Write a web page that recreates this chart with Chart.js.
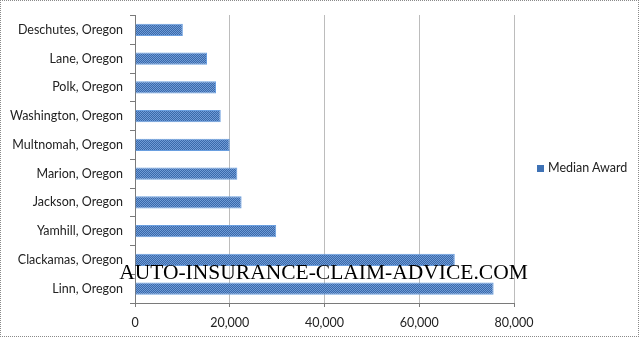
<!DOCTYPE html>
<html>
<head>
<meta charset="utf-8">
<script src="https://cdn.jsdelivr.net/npm/chart.js@4.4.1/dist/chart.umd.min.js"></script>
<style>
  html, body { margin: 0; padding: 0; background: #fff; }
  #wrap { position: relative; width: 639px; height: 337px; box-sizing: border-box; border: 1px dotted #8a8a8a; }
  canvas { position: absolute; left: 0; top: 0; }
  #legend { position: absolute; left: 536px; top: 159px; font: 12.5px Lato, "Open Sans", sans-serif; color: #222; white-space: nowrap; }
  #legend span.box { display: inline-block; width: 7px; height: 7px; background: #3f72b5; margin-right: 4px; vertical-align: 0px; }
  #mark { position: absolute; left: 0; width: 639px; top: 259px; text-align: center; font: 21.5px "Liberation Serif", "DejaVu Serif", serif; color: #000; padding-left: 6px; box-sizing: border-box; }
</style>
</head>
<body>
<div id="wrap">
  <canvas id="c" width="639" height="337"></canvas>
  <div id="legend"><span class="box"></span>Median Award</div>
  <div id="mark">AUTO-INSURANCE-CLAIM-ADVICE.COM</div>
</div>
<script>
const counties = ['Deschutes, Oregon', 'Lane, Oregon', 'Polk, Oregon', 'Washington, Oregon', 'Multnomah, Oregon',
                  'Marion, Oregon', 'Jackson, Oregon', 'Yamhill, Oregon', 'Clackamas, Oregon', 'Linn, Oregon'];
const medianAward = [10100, 15200, 17100, 18100, 20000, 21600, 22500, 29800, 67500, 75700];
const xTicks = [0, 20000, 40000, 60000, 80000];

// hatched fill like the original bars
function hatch() {
    const p = document.createElement('canvas');
    p.width = 2; p.height = 2;
    const g = p.getContext('2d');
    g.fillStyle = '#3a69aa'; g.fillRect(0, 0, 2, 2);
    g.fillStyle = '#6f9bd6'; g.fillRect(0, 0, 1, 1); g.fillRect(1, 1, 1, 1);
    return g.createPattern(p, 'repeat');
}

const ctx = document.getElementById('c').getContext('2d');
new Chart(ctx, {
    type: 'bar',
    data: {
        labels: counties,
        datasets: [{
            label: 'Median Award',
            data: medianAward,
            backgroundColor: hatch(),
            borderColor: '#6a9fe0',
            borderWidth: 1,
            borderSkipped: 'start',
            barPercentage: 0.42,
            categoryPercentage: 1
        }]
    },
    options: {
        indexAxis: 'y',
        responsive: false,
        animation: false,
        layout: { padding: { left: 0, right: 126, top: 14, bottom: 0 } },
        plugins: { legend: { display: false }, tooltip: { enabled: false } },
        scales: {
            x: {
                min: 0, max: 80000,
                afterBuildTicks: s => { s.ticks = xTicks.map(v => ({ value: v })); },
                afterFit: s => { s.height = 35; },
                ticks: {
                    color: '#222',
                    font: { family: 'Lato, "Open Sans", sans-serif', size: 12.5 },
                    padding: 8,
                    callback: v => v.toLocaleString('en-US')
                },
                grid: { color: '#7a7a7a', tickLength: 4, lineWidth: 1 },
                border: { color: '#7a7a7a', dash: [1, 1] }
            },
            y: {
                afterFit: s => { s.width = 134; },
                ticks: {
                    color: '#222',
                    font: { family: 'Lato, "Open Sans", sans-serif', size: 12.5 },
                    padding: 7
                },
                grid: { drawOnChartArea: false, color: '#7a7a7a', tickLength: 5, offset: true },
                border: { color: '#7a7a7a', dash: [1, 1] }
            }
        }
    }
});
</script>
</body>
</html>
